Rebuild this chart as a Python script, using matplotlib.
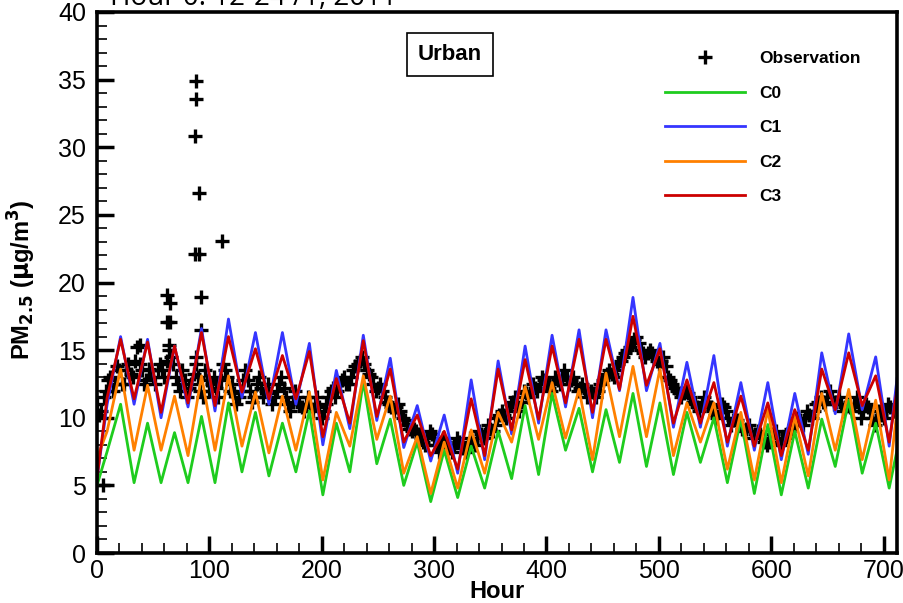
import numpy as np
import matplotlib
matplotlib.use('Agg')
import matplotlib.pyplot as plt
from matplotlib.ticker import MultipleLocator

# model output read at daily troughs / peaks (hour 0, then every 12 h, then last hour)
knot_hours = [0] + list(range(9, 706, 12)) + [712]

c0 = [5.0, 7.5, 11.0, 5.2, 9.6, 5.2, 8.9, 5.2, 10.1, 5.2, 11.1, 6.0, 10.4, 5.7, 9.6, 6.0,
      10.5, 4.3, 9.6, 6.0, 12.7, 6.6, 9.9, 5.0, 8.2, 3.8, 7.6, 4.1, 7.9, 4.8, 9.0, 5.5,
      10.9, 5.8, 11.8, 7.6, 10.7, 6.0, 10.6, 6.7, 11.8, 6.4, 11.1, 5.8, 10.4, 6.7, 10.0,
      5.2, 9.9, 4.4, 9.5, 4.3, 9.0, 4.8, 9.9, 6.4, 11.3, 5.9, 9.6, 4.8, 7.6]
c1 = [5.5, 11.0, 16.0, 11.0, 15.8, 10.0, 15.3, 10.8, 16.6, 10.5, 17.3, 11.5, 16.3, 11.0,
      16.3, 11.0, 15.5, 8.0, 13.5, 9.2, 16.1, 9.8, 14.4, 7.8, 10.9, 6.8, 10.2, 5.9, 12.8,
      6.9, 14.2, 8.8, 15.3, 9.6, 16.1, 10.8, 16.5, 10.0, 16.5, 12.0, 18.9, 12.0, 15.5, 9.3,
      14.1, 9.3, 14.6, 7.9, 12.6, 7.6, 12.6, 6.9, 11.8, 7.3, 14.8, 10.3, 16.2, 10.6, 14.5,
      7.9, 12.9]
c2 = [7.0, 9.0, 13.6, 7.6, 12.4, 7.6, 11.6, 7.2, 13.1, 7.6, 13.1, 7.9, 11.9, 7.4, 11.6,
      7.6, 11.9, 5.4, 10.4, 7.9, 13.1, 8.4, 11.6, 5.9, 8.6, 4.4, 8.2, 4.8, 9.1, 5.9, 10.4,
      8.2, 12.3, 8.4, 12.6, 8.5, 12.1, 6.9, 13.3, 8.6, 13.8, 8.6, 13.6, 7.2, 11.1, 8.2,
      11.1, 6.2, 10.4, 5.4, 10.6, 5.2, 10.1, 5.7, 11.8, 7.6, 12.1, 6.9, 11.3, 5.4, 10.6]
c3 = [5.5, 11.5, 15.8, 11.4, 15.6, 10.4, 15.3, 11.1, 16.3, 10.9, 16.0, 11.9, 15.1, 11.4,
      14.6, 11.4, 14.9, 8.6, 12.9, 9.6, 15.7, 10.1, 13.6, 8.2, 10.2, 7.2, 9.0, 6.2, 11.4,
      7.2, 13.6, 9.1, 14.3, 9.9, 15.3, 11.1, 15.8, 10.4, 15.8, 12.1, 17.5, 12.4, 15.1, 9.6,
      12.8, 9.6, 12.6, 8.2, 11.6, 7.9, 11.1, 7.2, 10.6, 7.6, 13.6, 10.6, 14.8, 10.9, 13.1,
      8.2, 12.1]

# observations, every 2 hours (one row = 48 h)
obs_hours = np.arange(0, 713, 2)
obs = [11.0, 10.2, 10.5, 11.5, 12.0, 12.8, 13.0, 12.0, 12.5, 13.8, 13.5, 12.5,
       12.5, 13.5, 14.0, 13.2, 13.0, 14.2, 15.2, 14.0, 13.5, 12.5, 12.8, 13.6,
       13.5, 13.0, 12.5, 13.5, 14.0, 13.5, 13.0, 14.2, 15.0, 14.5, 14.0, 13.0,
       12.5, 12.0, 13.5, 12.8, 11.5, 12.2, 12.5, 13.2, 14.0, 13.0, 12.0, 11.5,
       13.5, 12.8, 12.0, 12.5, 13.0, 12.2, 11.5, 12.8, 14.0, 13.5, 13.0, 12.0,
       12.5, 11.8, 11.0, 11.5, 12.0, 12.8, 13.5, 12.8, 12.0, 11.2, 11.5, 12.5,
       13.0, 12.2, 11.5, 12.0, 12.5, 11.8, 11.0, 11.5, 12.0, 12.5, 13.0, 12.2,
       11.5, 11.0, 10.5, 11.2, 12.0, 11.5, 11.0, 10.8, 10.5, 11.0, 11.5, 11.0,
       10.5, 11.0, 11.5, 10.8, 10.0, 10.5, 11.0, 11.5, 12.0, 12.2, 11.5, 12.0,
       12.5, 12.8, 13.0, 12.5, 12.5, 13.0, 13.5, 13.8, 14.0, 14.2, 14.5, 14.0,
       13.5, 13.2, 13.0, 12.5, 12.0, 12.2, 12.5, 12.0, 11.5, 11.2, 11.0, 10.8,
       10.5, 10.8, 11.0, 10.5, 10.0, 9.8, 9.5, 9.2, 9.0, 9.2, 9.0, 8.8,
       8.5, 8.2, 8.0, 8.5, 9.0, 8.8, 8.5, 8.0, 7.5, 8.0, 8.5, 8.2,
       8.0, 7.8, 7.5, 8.0, 8.5, 8.2, 8.0, 7.8, 7.5, 8.0, 8.5, 8.2,
       8.0, 8.5, 9.0, 8.8, 8.5, 9.0, 9.5, 9.2, 9.0, 9.5, 10.0, 10.2,
       10.5, 10.2, 10.0, 10.5, 11.0, 11.2, 11.5, 11.0, 10.5, 11.2, 12.0, 11.8,
       11.5, 12.0, 12.5, 12.2, 12.0, 12.5, 13.0, 12.8, 12.5, 12.2, 12.0, 12.5,
       13.0, 12.8, 12.5, 13.0, 13.5, 13.0, 12.5, 12.8, 13.0, 12.5, 12.0, 12.2,
       12.5, 12.0, 11.5, 11.8, 12.0, 11.8, 11.5, 12.0, 12.5, 12.8, 13.0, 13.2,
       13.5, 13.2, 13.0, 13.5, 14.0, 14.2, 14.5, 14.8, 15.0, 15.2, 15.5, 15.8,
       16.0, 15.5, 15.0, 14.8, 14.5, 14.8, 15.0, 14.8, 14.5, 14.2, 14.0, 14.2,
       14.5, 13.8, 13.0, 12.8, 12.5, 12.2, 12.0, 11.8, 11.5, 11.8, 12.0, 11.8,
       11.5, 11.2, 11.0, 10.8, 10.5, 11.0, 11.5, 11.2, 11.0, 10.8, 10.5, 10.2,
       10.0, 10.5, 11.0, 10.8, 10.5, 10.0, 9.5, 9.8, 10.0, 9.8, 9.5, 9.2,
       9.0, 9.2, 9.5, 9.0, 8.5, 8.8, 9.0, 8.8, 8.5, 8.2, 8.0, 8.2,
       8.5, 8.8, 9.0, 8.5, 8.0, 8.2, 8.5, 8.8, 9.0, 9.2, 9.5, 9.8,
       10.0, 9.8, 9.5, 10.0, 10.5, 10.2, 10.0, 10.5, 11.0, 11.2, 11.5, 11.2,
       11.0, 11.5, 12.0, 11.5, 11.0, 11.2, 11.5, 11.0, 10.5, 10.8, 11.0, 10.8,
       10.5, 11.0, 11.5, 10.8, 10.0, 10.5, 11.0, 10.8, 10.5, 10.0, 9.5, 10.0,
       10.5, 10.2, 10.0, 10.5, 11.0, 10.8, 10.5, 10.5, 10.5]

# single high observations
spike_hours = [5, 38, 62, 65, 62, 65, 64, 88, 88, 87, 91, 87, 91, 93, 93, 88, 111]
spike_vals = [5.0, 15.4, 19.1, 18.5, 17.1, 17.1, 15.4, 34.9, 33.6, 30.8, 26.6, 22.1,
              22.1, 18.9, 16.5, 14.5, 23.1]

fig = plt.figure(figsize=(9.04, 6.03), dpi=100)
ax = fig.add_axes([0.1073, 0.0829, 0.885, 0.8972])

ax.plot(obs_hours, obs, ls='none', marker='+', ms=10, mew=2.4, color='black',
        label='Observation')
ax.plot(spike_hours, spike_vals, ls='none', marker='+', ms=10, mew=2.4, color='black')
ax.plot(knot_hours, c0, color='#1ecc1e', lw=2.0, label='C0')
ax.plot(knot_hours, c1, color='#3535ff', lw=2.0, label='C1')
ax.plot(knot_hours, c2, color='#ff8000', lw=2.0, label='C2')
ax.plot(knot_hours, c3, color='#cc0000', lw=2.0, label='C3')

ax.set_xlim(0, 712)
ax.set_ylim(0, 40)
ax.xaxis.set_major_locator(MultipleLocator(100))
ax.xaxis.set_minor_locator(MultipleLocator(20))
ax.yaxis.set_major_locator(MultipleLocator(5))
ax.yaxis.set_minor_locator(MultipleLocator(1))
ax.tick_params(which='both', direction='in', top=False, right=False)
ax.tick_params(which='major', length=12, width=2.5)
ax.tick_params(which='minor', length=7, width=1.2)
ax.tick_params(axis='y', which='major', pad=8)
ax.tick_params(axis='x', which='major', pad=4)
for spine in ax.spines.values():
    spine.set_linewidth(2.6)

tick_font = ['Liberation Sans Narrow', 'Liberation Sans', 'DejaVu Sans']
for lab in ax.get_xticklabels() + ax.get_yticklabels():
    lab.set_family(tick_font)
    lab.set_fontsize(18)

ax.set_xlabel('Hour', fontsize=17, fontweight='bold', family=['Liberation Sans'])
ax.xaxis.set_label_coords(0.5, -0.05)
ax.set_ylabel(r'PM$_{\mathbf{2.5}}$ ($\mathbf{\mu}$g/m$^{\mathbf{3}}$)', fontsize=17,
              fontweight='bold', family=['Liberation Sans'])
ax.yaxis.set_label_coords(-0.074, 0.505)

ax.text(0.441, 0.922, 'Urban', transform=ax.transAxes, ha='center', va='center',
        fontsize=16, fontweight='bold', family=['Liberation Sans'],
        bbox=dict(boxstyle='square,pad=0.5', fc='white', ec='black', lw=1.2))

leg = ax.legend(loc='upper left', bbox_to_anchor=(0.71, 0.928), frameon=False,
                borderpad=0, borderaxespad=0, handlelength=4.6, handletextpad=0.85,
                labelspacing=1.12,
                prop={'family': 'Liberation Sans', 'weight': 'bold', 'size': 12.5})

fig.text(0.122, 0.9917, 'Hour 0: 12-24 /1, 2011', fontsize=20, family=['Open Sans'],
         va='baseline', ha='left')

fig.savefig('out.png', dpi=100)
